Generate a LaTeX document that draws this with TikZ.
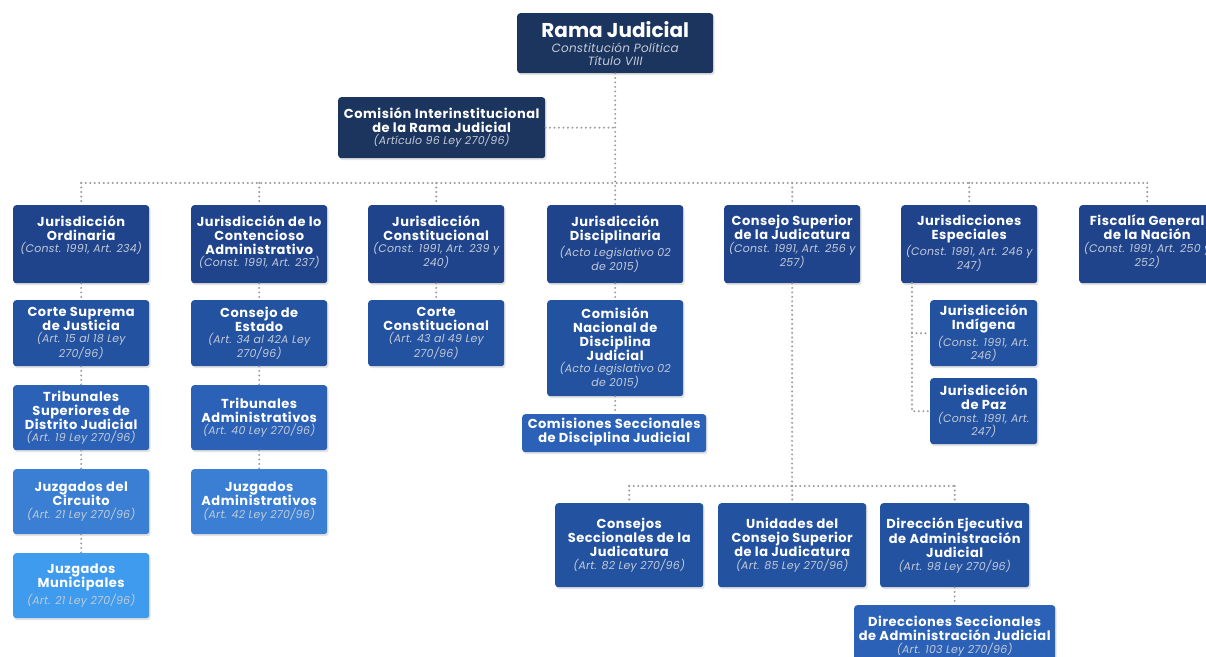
\documentclass[tikz,border=0pt]{standalone}
\usepackage{fontspec}
\setmainfont{Poppins}
\usetikzlibrary{shadows}

\definecolor{navy}{HTML}{1C355E}
\definecolor{lvla}{HTML}{1F448C}
\definecolor{lvlb}{HTML}{2352A0}
\definecolor{lvlc}{HTML}{2B62B8}
\definecolor{lvld}{HTML}{3A7FD4}
\definecolor{lvle}{HTML}{3E9BEE}
\definecolor{subtext}{HTML}{C3CAD8}
\definecolor{linkgray}{HTML}{9A9A9A}

\newcommand{\titlefont}{\bfseries\fontsize{13}{14}\selectfont\addfontfeature{LetterSpace=4}}
\newcommand{\subfont}{\itshape\fontsize{11}{11}\selectfont\addfontfeature{LetterSpace=2}\color{subtext}}
% box text: width, height, vertical position (c or t), title, reference
\newcommand{\orgcell}[5]{\parbox[c][#2pt][#3]{#1pt}{\centering\ifx t#3\vspace*{10pt}\fi
  {\titlefont #4\par}\vspace{1.5pt}{\subfont #5\par}}}

\tikzset{
  box/.style={rounded corners=3pt, text=white, inner sep=0pt, anchor=north west,
    drop shadow={shadow xshift=1.5pt, shadow yshift=-2pt, opacity=0.22}},
  link/.style={draw=linkgray, line width=2.2pt, line cap=round, dash pattern=on 0pt off 4.5pt}
}

\begin{document}
\begin{tikzpicture}[x=1pt,y=-1pt]
\useasboundingbox[fill=white] (0,0) rectangle (1206,656);

% top
\node[box, fill=navy] (rama) at (517,13) {\parbox[c][60pt][c]{196pt}{\centering
  {\bfseries\fontsize{20}{22}\selectfont Rama Judicial\par}\vspace{3pt}
  {\subfont\fontsize{12}{12.5}\selectfont Constitución Política\\Título VIII\par}}};
\node[box, fill=navy] (cii) at (338,97) {\orgcell{207}{61}{c}{Comisión Interinstitucional\\de la Rama Judicial}{(Artículo 96 Ley 270/96)}};

% jurisdicciones
\node[box, fill=lvla] (ord) at (13,205) {\orgcell{136}{78}{t}{Jurisdicción\\Ordinaria}{(Const. 1991, Art. 234)}};
\node[box, fill=lvla] (cont) at (191,205) {\orgcell{136}{78}{t}{Jurisdicción de lo\\Contencioso\\Administrativo}{(Const. 1991, Art. 237)}};
\node[box, fill=lvla] (const) at (368,205) {\orgcell{136}{78}{t}{Jurisdicción\\Constitucional}{(Const. 1991, Art. 239 y\\240)}};
\node[box, fill=lvla] (disc) at (547,205) {\orgcell{136}{78}{t}{Jurisdicción\\Disciplinaria}{(Acto Legislativo 02\\de 2015)}};
\node[box, fill=lvla] (csjud) at (724,205) {\orgcell{136}{78}{t}{Consejo Superior\\de la Judicatura}{(Const. 1991, Art. 256 y\\257)}};
\node[box, fill=lvla] (esp) at (901,205) {\orgcell{136}{78}{t}{Jurisdicciones\\Especiales}{(Const. 1991, Art. 246 y\\247)}};
\node[box, fill=lvla] (fis) at (1079,205) {\orgcell{136}{78}{t}{Fiscalía General\\de la Nación}{(Const. 1991, Art. 250 y\\252)}};

% jurisdiccion ordinaria
\node[box, fill=lvlb] (csj) at (13,300) {\orgcell{136}{66}{c}{Corte Suprema\\de Justicia}{(Art. 15 al 18 Ley\\270/96)}};
\node[box, fill=lvlc] (tsd) at (13,385) {\orgcell{136}{65}{c}{Tribunales\\Superiores de\\Distrito Judicial}{(Art. 19 Ley 270/96)}};
\node[box, fill=lvld] (jci) at (13,469) {\orgcell{136}{65}{c}{Juzgados del\\Circuito}{(Art. 21 Ley 270/96)}};
\node[box, fill=lvle] (jmu) at (13,553) {\orgcell{136}{65}{c}{Juzgados\\Municipales}{(Art. 21 Ley 270/96)}};

% contencioso
\node[box, fill=lvlb] (ce) at (191,300) {\orgcell{136}{66}{c}{Consejo de\\Estado}{(Art. 34 al 42A Ley\\270/96)}};
\node[box, fill=lvlc] (tad) at (191,385) {\orgcell{136}{65}{c}{Tribunales\\Administrativos}{(Art. 40 Ley 270/96)}};
\node[box, fill=lvld] (jad) at (191,469) {\orgcell{136}{65}{c}{Juzgados\\Administrativos}{(Art. 42 Ley 270/96)}};

% constitucional, disciplinaria
\node[box, fill=lvlb] (cc) at (368,300) {\orgcell{136}{66}{c}{Corte\\Constitucional}{(Art. 43 al 49 Ley\\270/96)}};
\node[box, fill=lvlb] (cnd) at (547,300) {\orgcell{136}{96}{c}{Comisión\\Nacional de\\Disciplina\\Judicial}{(Acto Legislativo 02\\de 2015)}};
\node[box, fill=lvlc] (csd) at (522,414) {\orgcell{184}{38}{c}{Comisiones Seccionales\\de Disciplina Judicial}{}};

% especiales
\node[box, fill=lvlb] (ind) at (930,300) {\orgcell{107}{66}{c}{Jurisdicción\\Indígena}{(Const. 1991, Art.\\246)}};
\node[box, fill=lvlb] (paz) at (930,378) {\orgcell{107}{66}{c}{Jurisdicción\\de Paz}{(Const. 1991, Art.\\247)}};

% consejo superior
\node[box, fill=lvlb] (cse) at (555,503) {\orgcell{148}{84}{c}{Consejos\\Seccionales de la\\Judicatura}{(Art. 82 Ley 270/96)}};
\node[box, fill=lvlb] (ucs) at (718,503) {\orgcell{148}{84}{c}{Unidades del\\Consejo Superior\\de la Judicatura}{(Art. 85 Ley 270/96)}};
\node[box, fill=lvlb] (dej) at (880,503) {\orgcell{149}{84}{c}{Dirección Ejecutiva\\de Administración\\Judicial}{(Art. 98 Ley 270/96)}};
\node[box, fill=lvlc] (dsa) at (854,605) {\orgcell{201}{62}{c}{Direcciones Seccionales\\de Administración Judicial}{(Art. 103 Ley 270/96)}};

% connectors
\coordinate (bus) at (615,183);
\coordinate (busb) at (792,486);
\coordinate (espdown) at (912,283);
\draw[link] (rama.south) -- (disc.north);
\draw[link] (cii.east) -- (cii.east -| rama.south);
\draw[link] (ord.north |- bus) -- (fis.north |- bus);
\foreach \n in {ord,cont,const,csjud,esp,fis}
  \draw[link] (\n.north |- bus) -- (\n.north);
\draw[link] (ord) -- (csj) (csj) -- (tsd) (tsd) -- (jci) (jci) -- (jmu);
\draw[link] (cont) -- (ce) (ce) -- (tad) (tad) -- (jad);
\draw[link] (const) -- (cc);
\draw[link] (disc) -- (cnd) (cnd.south) -- (cnd.south |- csd.north);
\draw[link] (espdown) |- (paz.west);
\draw[link] (espdown |- ind.west) -- (ind.west);
\draw[link] (csjud.south) -- (busb);
\draw[link] (cse.north |- busb) -- (dej.north |- busb);
\foreach \n in {cse,ucs,dej}
  \draw[link] (\n.north |- busb) -- (\n.north);
\draw[link] (dej.south) -- (dej.south |- dsa.north);

\end{tikzpicture}
\end{document}
